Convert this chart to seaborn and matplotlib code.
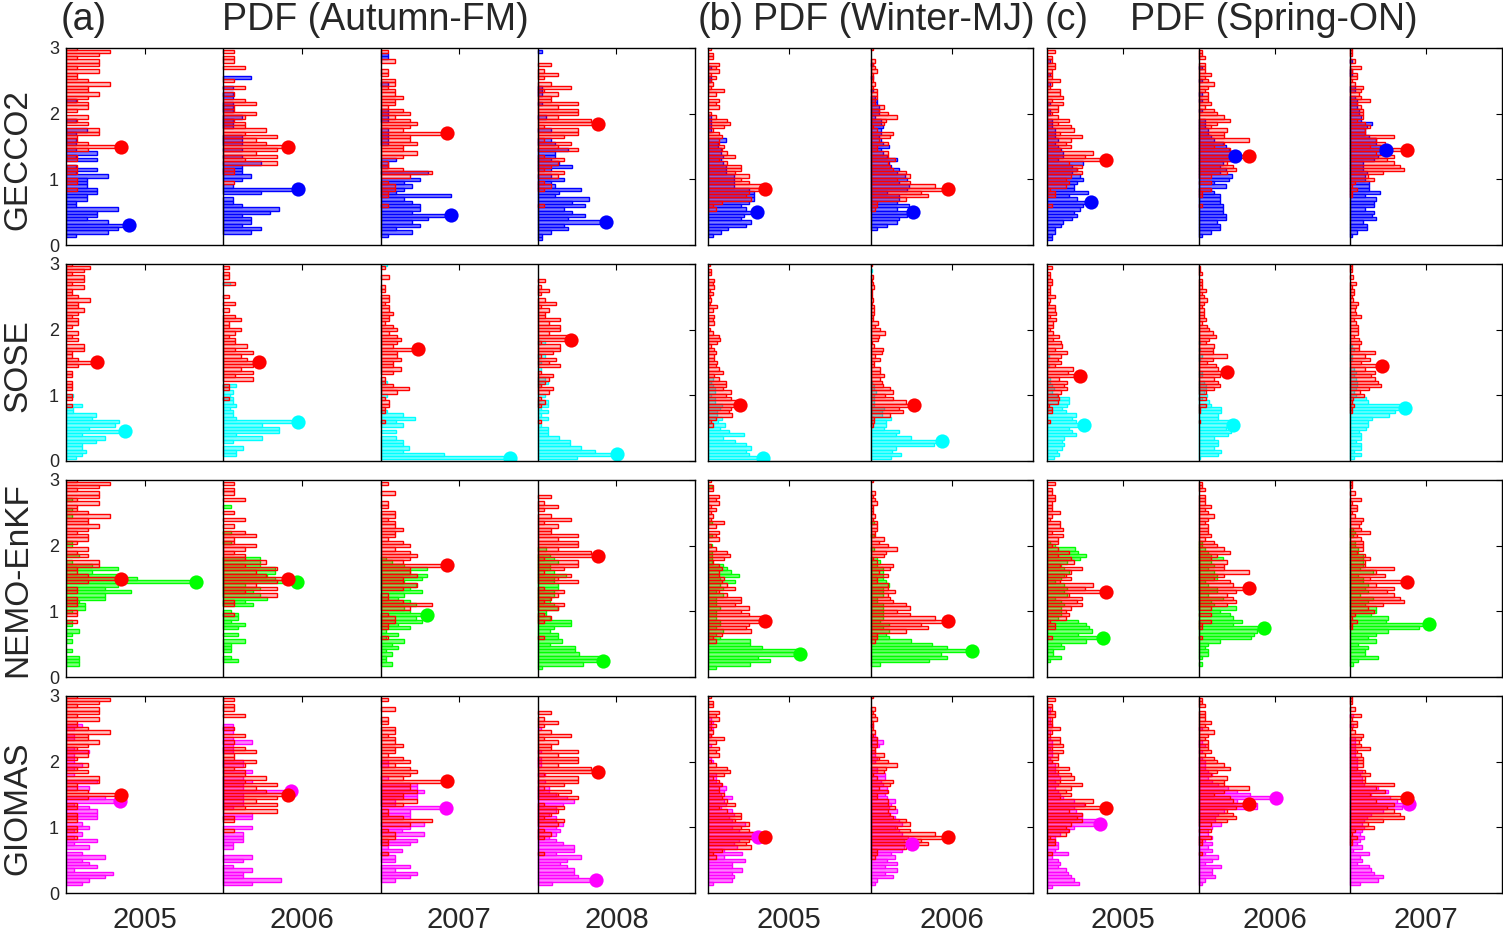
import numpy as np
import matplotlib
matplotlib.use("Agg")
import matplotlib.pyplot as plt
import seaborn as sns
from matplotlib.colors import to_rgba

# PDF bins: centres from 3.0 (top) down to 0.0, step 0.05.
# every count list below runs in that same top-down order (61 values)
BIN_WIDTH = 0.05
bin_centres = np.round(np.arange(60, -1, -1) * BIN_WIDTH, 2)

row_names = ["GECCO2", "SOSE", "NEMO-EnKF", "GIOMAS"]
row_colors = ["#0000ff", "#00ffff", "#00ff00", "#ff00ff"]
obs_color = "#ff0000"

years_fm = [2005, 2006, 2007, 2008]
years_mj = [2005, 2006]
years_on = [2005, 2006, 2007]

# ---- (a) Autumn-FM : bin counts, one list per year ----
obs_fm = [
    [1,4,3,1,3,3,1,3,1,1, 2,4,2,2,3,2,1,2,2,1, 0,2,1,2,0,3,3,1,1,2, 5,2,0,1,1,0,1,1,1,0, 1,1,0,1,0,0,0,0,0,0, 0,0,0,0,0,0,0,0,0,0, 0],
    [0,1,0,1,1,0,2,0,0,0, 1,0,2,0,1,0,2,3,1,1, 3,2,1,2,2,4,2,5,3,4, 6,5,3,5,2,5,0,1,1,0, 0,1,0,0,0,0,0,0,0,0, 0,0,0,0,0,0,0,0,0,0, 0],
    [0,1,0,0,2,0,0,1,1,0, 2,2,1,2,2,3,2,2,1,3, 4,2,4,5,4,3,9,4,4,5, 3,3,5,3,0,1,1,3,7,4, 0,1,2,2,1,1,0,0,1,0, 0,0,0,0,0,0,0,0,0,0, 0],
    [0,0,0,0,0,2,0,1,3,1, 0,2,5,1,3,2,2,6,3,6, 6,3,8,9,1,6,6,4,1,5, 3,6,0,1,4,3,2,1,4,3, 0,1,2,1,0,0,0,0,1,0, 0,0,0,0,0,0,0,0,0,0, 0],
]
gecco2_fm = [
    [0,0,0,0,0,0,0,0,0,0, 0,0,0,0,0,0,1,0,0,0, 0,0,1,0,0,2,1,0,1,1, 0,1,3,1,3,0,1,3,1,4, 2,2,2,3,3,2,2,1,1,5, 3,3,2,4,6,5,4,1,0,0, 0],
    [0,0,0,0,0,0,0,0,0,3, 0,0,1,0,1,1,0,1,1,1, 0,2,1,1,1,0,0,2,2,2, 0,2,0,2,0,4,2,2,2,3, 2,0,1,8,4,0,1,1,2,6, 5,2,3,3,2,4,3,0,0,0, 0],
    [0,0,1,1,0,0,0,0,0,0, 0,1,0,0,0,0,0,0,0,1, 1,1,1,0,0,1,1,1,1,1, 0,0,0,0,2,1,1,0,6,0, 5,3,4,3,2,9,3,4,5,5, 4,9,6,4,5,2,4,1,0,0, 0],
    [0,1,0,0,0,0,0,0,0,0, 0,0,1,1,1,0,0,1,0,0, 0,2,0,0,0,3,0,0,3,4, 0,7,4,4,3,5,8,3,0,3, 6,3,4,10,5,4,12,8,11,6, 8,11,7,16,6,7,3,1,1,0, 0],
]
sose_fm = [
    [0,0,0,0,0,0,0,0,0,0, 0,0,0,0,0,0,0,0,0,0, 0,0,0,0,0,0,0,0,0,0, 0,0,0,0,0,0,0,0,0,0, 2,0,0,5,2,2,9,8,16,15, 7,18,5,12,9,5,5,6,5,3, 0],
    [0,0,0,0,0,0,2,0,0,0, 0,0,0,0,0,0,0,0,0,0, 0,0,0,0,0,0,0,0,0,0, 0,0,0,0,0,0,0,4,0,3, 2,3,3,4,2,3,3,4,23,12, 17,17,4,12,3,0,6,4,4,0, 0],
    [2,0,0,0,0,0,0,0,0,0, 0,0,0,0,0,0,0,0,0,0, 0,0,0,0,0,0,0,0,0,0, 0,0,0,0,0,0,2,0,0,0, 2,0,0,0,0,2,7,11,5,7, 0,5,0,5,7,7,9,7,20,41, 0],
    [0,0,0,0,0,0,0,0,0,0, 0,0,0,0,0,0,0,0,0,0, 0,0,0,0,2,0,0,0,2,0, 1,0,1,0,0,2,3,1,0,0, 2,0,3,3,1,3,1,3,0,1, 3,3,3,6,9,9,12,16,22,11, 0],
]
nemo_fm = [
    [0,0,0,0,0,0,1,0,0,1, 0,1,0,0,0,0,0,0,0,1, 1,0,0,2,0,1,4,8,4,8, 11,20,8,6,10,6,6,2,3,3, 1,0,0,1,1,0,2,1,0,1, 0,0,1,0,2,2,2,0,0,0, 0],
    [0,0,0,0,0,0,0,0,1,0, 0,0,0,0,0,0,1,0,0,1, 0,0,0,0,5,5,5,7,7,6, 7,10,3,5,4,5,6,3,4,0, 1,2,2,1,3,2,0,2,0,3, 1,1,1,0,1,2,0,0,0,0, 0],
    [0,0,0,0,0,0,0,0,0,0, 0,0,0,0,0,0,0,0,0,0, 0,0,0,0,1,2,4,8,5,8, 7,4,6,5,7,4,3,5,6,4, 5,8,6,7,3,5,1,3,1,4, 2,3,1,2,1,1,2,0,0,0, 0],
    [0,0,0,0,0,0,0,0,0,0, 0,0,0,0,0,0,0,0,0,0, 0,2,0,3,4,5,3,3,4,7, 4,4,5,5,4,4,3,3,4,5, 2,2,3,8,8,4,3,5,5,6, 3,9,9,10,15,16,11,1,0,0, 0],
]
giomas_fm = [
    [0,0,0,0,0,0,0,0,0,2, 1,0,1,1,0,0,1,3,1,1, 1,2,1,0,1,0,4,0,3,0, 0,5,7,1,3,4,4,4,0,2, 3,1,2,1,4,1,3,0,2,5, 2,3,4,1,6,5,3,2,0,0, 0],
    [0,0,0,0,0,0,0,0,0,1, 1,1,0,1,3,1,1,1,0,0, 2,2,0,3,0,2,3,2,2,7, 2,2,2,2,1,0,3,3,0,0, 3,0,2,2,2,1,1,0,0,3, 2,0,1,3,2,2,6,3,0,0, 0],
    [0,0,0,0,0,0,0,0,0,0, 0,0,0,0,0,0,0,0,0,0, 1,1,0,0,0,1,0,5,5,6, 5,5,2,2,9,4,4,4,0,6, 4,3,6,0,5,4,1,3,1,2, 2,0,4,2,5,4,2,0,0,0, 0],
    [0,0,0,0,0,0,0,0,0,0, 1,0,0,0,0,0,0,1,0,1, 1,1,0,0,2,0,2,0,3,3, 5,8,10,7,5,5,3,5,5,7, 5,6,5,3,5,7,10,10,5,12, 8,6,8,10,10,11,16,4,0,0, 0],
]

# ---- (b) Winter-MJ ----
obs_mj = [
    [1,0,2,2,0,4,3,4,1,3, 1,2,1,6,3,0,4,3,4,0, 1,3,7,8,6,2,4,5,4,4, 6,5,7,10,4,7,12,12,10,15, 12,15,20,21,15,14,16,5,2,3, 0,0,0,0,0,0,0,0,0,0, 0],
    [1,0,0,0,2,1,2,3,1,1, 1,2,1,3,3,3,2,2,6,4, 8,12,7,6,1,3,10,9,4,8, 3,3,8,8,11,8,9,10,16,18, 12,18,29,35,23,26,16,3,3,2, 0,0,0,0,0,0,0,0,0,0, 0],
]
gecco2_mj = [
    [0,0,0,0,0,0,1,0,0,1, 1,0,0,0,0,0,0,0,0,0, 0,1,1,1,1,1,0,0,7,4, 4,5,5,6,5,6,7,7,7,10, 10,10,10,16,18,18,18,16,13,15, 19,14,13,17,15,8,5,2,0,0, 0],
    [0,0,0,0,0,1,0,0,0,1, 0,0,0,1,0,2,3,3,4,4, 4,2,5,5,6,5,5,4,5,6, 9,5,6,8,13,9,10,14,13,17, 18,14,19,18,8,14,14,13,19,13, 21,18,14,13,8,3,0,0,0,0, 0],
]
sose_mj = [
    [0,0,0,0,0,0,0,0,0,0, 0,0,0,0,0,0,0,0,0,0, 0,0,0,0,0,0,0,0,0,0, 0,0,0,0,0,3,2,3,4,4, 2,4,4,8,7,5,5,8,6,10, 7,12,21,9,16,22,25,22,24,32, 0],
    [0,0,1,0,0,0,0,0,0,0, 0,0,0,0,0,0,0,0,0,0, 0,0,0,0,0,0,0,0,0,0, 0,0,0,0,0,0,1,2,2,3, 2,2,2,2,8,7,7,12,9,9, 8,17,15,24,43,38,15,13,18,12, 0],
]
nemo_mj = [
    [0,0,1,0,0,0,0,0,0,0, 0,0,0,1,0,0,0,1,0,0, 1,0,1,1,1,1,4,5,6,8, 3,7,3,4,2,4,2,2,2,3, 2,2,2,3,3,2,4,2,3,11, 11,14,23,24,13,16,11,2,0,0, 0],
    [0,0,0,0,0,0,0,0,0,0, 0,0,0,1,0,0,0,1,0,0, 0,1,0,0,2,3,2,4,4,4, 4,5,6,4,4,4,2,2,4,4, 4,4,4,3,6,4,6,5,6,13, 20,25,33,23,25,19,3,0,0,0, 0],
]
giomas_mj = [
    [0,0,0,0,0,0,0,1,2,1, 2,0,1,0,0,1,0,0,0,1, 2,0,0,0,3,3,3,5,7,6, 5,9,6,7,5,9,10,8,9,14, 9,12,17,19,12,10,11,6,13,6, 14,9,9,13,9,10,9,2,0,0, 0],
    [0,0,0,0,0,0,0,0,0,1, 0,0,2,3,6,4,0,2,2,3, 2,0,3,3,7,7,5,6,8,8, 7,8,12,10,9,13,9,12,14,15, 12,14,15,18,16,20,16,15,10,12, 8,13,7,13,7,11,3,2,0,0, 0],
]

# ---- (c) Spring-ON ----
obs_on = [
    [0,3,0,2,2,3,3,2,2,2, 5,2,1,5,5,6,2,6,4,4, 2,4,8,4,9,10,5,13,9,7, 9,5,17,14,22,8,13,11,13,9, 7,8,7,1,3,3,0,0,2,0, 0,0,0,0,0,0,0,0,0,0, 0],
    [0,1,1,2,0,2,2,2,4,2, 3,5,3,2,3,3,3,4,2,5, 6,8,10,6,4,9,8,8,16,8, 5,10,11,16,12,9,11,12,9,4, 0,4,0,4,1,1,0,0,1,0, 0,0,0,0,0,0,0,0,0,0, 0],
    [1,1,1,0,2,0,5,1,3,3, 1,2,6,5,4,5,9,3,5,6, 6,6,3,7,9,7,7,20,12,16, 9,26,12,20,17,20,23,25,15,8, 11,2,1,3,1,1,0,0,0,0, 0,0,0,0,0,0,0,0,0,0, 0],
]
gecco2_on = [
    [0,0,0,0,1,0,0,0,1,0, 0,1,0,0,0,0,0,1,0,1, 1,0,2,2,2,3,3,3,4,3, 4,5,6,6,4,13,9,11,9,12, 13,11,10,10,15,8,11,16,13,12, 10,11,9,6,5,3,3,2,2,0, 0],
    [0,0,0,0,0,0,1,0,0,0, 1,0,0,0,1,0,1,0,0,1, 0,0,2,2,2,3,3,4,5,8, 9,10,11,12,11,8,7,9,7,11, 10,5,9,4,5,7,7,7,8,8, 8,9,9,6,7,7,4,1,0,0, 0],
    [0,0,0,0,1,0,0,1,1,0, 0,0,2,2,0,2,3,3,3,4, 4,5,5,10,8,7,7,9,12,12, 14,17,14,13,11,6,6,6,8,7, 7,9,9,9,14,7,12,11,11,7, 11,10,12,6,8,8,3,1,0,0, 0],
]
sose_on = [
    [0,0,0,0,0,0,0,0,0,0, 0,0,0,0,0,0,0,0,0,0, 0,0,0,0,0,0,0,0,1,0, 0,1,0,0,0,2,2,3,4,3, 6,13,13,12,9,11,17,15,17,22, 13,15,17,10,9,10,9,6,7,4, 0],
    [0,0,0,0,0,0,0,0,0,0, 0,0,0,0,0,0,0,0,0,0, 0,0,0,0,1,0,1,0,2,1, 0,0,0,2,2,0,3,4,4,3, 5,2,6,7,13,13,11,11,19,20, 16,19,17,9,11,11,9,13,11,1, 0],
    [0,0,0,0,0,0,0,0,0,0, 0,0,0,0,0,0,0,0,0,0, 0,0,0,0,0,1,2,0,1,1, 0,0,2,3,2,3,4,4,3,2, 3,9,10,28,31,25,22,12,10,10, 9,5,6,6,3,6,6,2,6,2, 0],
]
nemo_on = [
    [0,0,0,0,0,0,0,0,0,0, 0,0,0,0,0,0,0,0,0,1, 3,10,11,14,12,7,5,6,8,6, 5,3,6,7,6,7,3,5,6,5, 5,5,4,11,14,15,16,11,20,14, 5,6,2,2,5,1,0,0,0,0, 0],
    [0,0,0,0,0,0,0,0,0,0, 0,0,0,0,0,0,0,0,0,1, 1,2,3,4,8,4,5,3,5,6, 6,2,3,6,6,3,8,4,5,12, 7,10,11,14,11,21,19,18,17,7, 3,2,3,3,1,0,1,0,0,0, 0],
    [0,0,0,0,0,0,0,0,0,0, 0,0,0,0,0,1,2,1,0,2, 2,3,3,5,5,5,5,4,9,3, 5,5,7,6,7,4,9,7,6,10, 10,8,15,14,31,27,15,10,7,10, 3,7,6,6,11,3,1,0,0,0, 0],
]
giomas_on = [
    [0,0,0,0,1,1,0,1,1,2, 0,1,0,1,2,2,1,2,2,1, 2,3,3,3,4,5,3,4,3,4, 5,6,10,14,10,11,13,13,19,20, 10,8,5,3,3,4,4,3,8,2, 4,5,4,7,8,9,10,12,2,0, 0],
    [0,0,0,0,0,0,0,0,0,0, 1,0,0,0,1,2,0,1,0,1, 2,2,2,3,4,3,4,6,9,12, 16,24,12,18,18,8,6,5,5,7, 4,3,3,4,2,4,3,4,2,6, 4,2,7,4,4,5,2,1,0,0, 0],
    [0,0,0,0,0,0,1,0,0,1, 0,0,0,2,2,2,2,2,2,3, 3,3,3,5,4,5,5,6,12,16, 9,17,20,25,22,14,9,7,6,5, 6,5,4,6,4,3,5,1,8,4, 5,3,8,9,10,14,12,4,0,0, 0],
]

# horizontal size of a pdf inside its one-year slot (row 2 is drawn smaller)
row_scale = [0.25, 0.14, 0.25, 0.25]

panels = [
    dict(tag="(a)", title="PDF (Autumn-FM)", years=years_fm, obs=obs_fm,
         models=[gecco2_fm, sose_fm, nemo_fm, giomas_fm], px=(66, 695),
         tag_x=84, title_x=375),
    dict(tag="(b)", title="PDF (Winter-MJ)", years=years_mj, obs=obs_mj,
         models=[gecco2_mj, sose_mj, nemo_mj, giomas_mj], px=(708, 1033),
         tag_x=721, title_x=894),
    dict(tag="(c)", title="PDF (Spring-ON)", years=years_on, obs=obs_on,
         models=[gecco2_on, sose_on, nemo_on, giomas_on], px=(1047, 1502),
         tag_x=1067, title_x=1274),
]
row_px = [(48, 245), (264, 461), (480, 677), (696, 893)]
row_label_y = [160, 366, 580, 808]

sns.set_style("white")
plt.rcParams["font.family"] = ["Liberation Sans", "DejaVu Sans"]

W, H = 1503, 934
fig = plt.figure(figsize=(W / 100, H / 100), dpi=100)


def draw_pdf(ax, year, counts, color, alpha, scale, z):
    counts = np.asarray(counts, dtype=float)
    pdf = counts / (counts.sum() * BIN_WIDTH)
    keep = counts > 0
    ax.barh(bin_centres[keep], pdf[keep] * scale, height=BIN_WIDTH,
            left=year - 0.5, color=to_rgba(color, alpha), edgecolor=color,
            linewidth=1.0, zorder=z)
    # mode of the pdf (lowest bin on ties)
    k = len(pdf) - 1 - np.argmax(pdf[::-1])
    return year - 0.5 + pdf[k] * scale, bin_centres[k]


for ip, p in enumerate(panels):
    x0, x1 = p["px"]
    for r, name in enumerate(row_names):
        y0, y1 = row_px[r]
        ax = fig.add_axes([x0 / W, 1 - y1 / H, (x1 - x0) / W, (y1 - y0) / H])
        col = row_colors[r]
        sc = row_scale[r]

        model_modes, obs_modes = [], []
        for year, m_counts, o_counts in zip(p["years"], p["models"][r], p["obs"]):
            model_modes.append(draw_pdf(ax, year, m_counts, col, 0.5, sc, 2))
            obs_modes.append(draw_pdf(ax, year, o_counts, obs_color, 0.25, sc, 3))

        mx, my = zip(*model_modes)
        sns.scatterplot(x=list(mx), y=list(my), color=col, s=105, linewidth=0,
                        ax=ax, zorder=4, legend=False)
        ox, oy = zip(*obs_modes)
        sns.scatterplot(x=list(ox), y=list(oy), color=obs_color, s=105, linewidth=0,
                        ax=ax, zorder=5, legend=False)

        for yr in p["years"][:-1]:
            ax.axvline(yr + 0.5, color="black", linewidth=1.0, zorder=6)

        ax.set_xlim(p["years"][0] - 0.5, p["years"][-1] + 0.5)
        ax.set_ylim(0, 3)
        ax.set_xticks(p["years"])
        ax.set_yticks([0, 1, 2, 3])
        ax.set_xlabel("")
        ax.set_ylabel("")
        ax.tick_params(axis="both", direction="in", top=True, right=True,
                       length=4, width=0.8, color="black")
        ax.tick_params(axis="x", pad=9, labelsize=21)
        ax.tick_params(axis="y", pad=5, labelsize=13)
        if r < 3:
            ax.set_xticklabels([])
        if ip > 0:
            ax.set_yticklabels([])
        for sp in ax.spines.values():
            sp.set_color("black")
            sp.set_linewidth(1.0)
            sp.set_zorder(7)

    fig.text(p["tag_x"] / W, 1 - 20 / H, p["tag"], ha="center", va="center", fontsize=27)
    fig.text(p["title_x"] / W, 1 - 20 / H, p["title"], ha="center", va="center", fontsize=27)

for name, yc in zip(row_names, row_label_y):
    fig.text(18 / W, 1 - yc / H, name, rotation=90, ha="center", va="center", fontsize=24)

fig.savefig("out.png", dpi=100, facecolor="white")
